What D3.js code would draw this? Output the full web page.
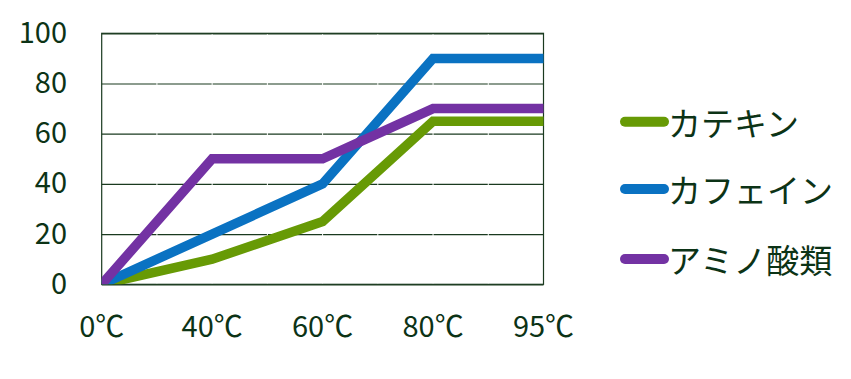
<!DOCTYPE html>
<html><head><meta charset="utf-8">
<script src="https://cdn.jsdelivr.net/npm/d3@7/dist/d3.min.js"></script>
<style>body{margin:0;background:#fff}svg{display:block}</style>
</head><body>
<svg id="c" width="851" height="379"></svg>
<script>
const categories = ["0℃","40℃","60℃","80℃","95℃"];
const seriesNames = ["カテキン","カフェイン","アミノ酸類"];
const catechin = [0,10,25,65,65];
const caffeine = [0,20,40,90,90];
const amino = [0,50,50,70,70];
const yTicks = [0,20,40,60,80,100];
const colors = ["#679a05","#0a72c2","#7332a3"];
const textColor = "#0c3316";

const svg = d3.select("#c");
const L=101.7,R=543.5,T=33.3,B=284.3;
const x = d3.scalePoint().domain(categories).range([L,R]);
const y = d3.scaleLinear().domain([0,100]).range([B,T]);

svg.append("defs").append("clipPath").attr("id","clip")
  .append("rect").attr("x",L).attr("y",T).attr("width",R-L+1).attr("height",B-T);

// gridlines
const yAxis = d3.axisLeft(y).tickValues(yTicks).tickSize(-(R-L)).tickFormat("");
svg.append("g").attr("transform",`translate(${L},0)`).call(yAxis)
  .call(g=>g.select(".domain").remove())
  .call(g=>g.selectAll("line").attr("stroke","#1a3a1f").attr("stroke-width",1.2));
// border
svg.append("rect").attr("x",L).attr("y",T).attr("width",R-L).attr("height",B-T)
  .attr("fill","none").attr("stroke","#1a3a1f").attr("stroke-width",1.2);
// faint white separators
const step = x.step()/2;
const seps = d3.range(1,8).map(i=>L+i*step);
svg.append("g").selectAll("line").data(seps).join("line")
  .attr("x1",d=>d).attr("x2",d=>d).attr("y1",T+1).attr("y2",B-1)
  .attr("stroke","#fff").attr("stroke-width",1);

const font = "'Noto Sans CJK JP','Noto Sans',sans-serif";
// y labels
svg.append("g").selectAll("text").data(yTicks).join("text")
  .attr("x",67).attr("y",d=>y(d)-3.5).attr("text-anchor","end").attr("dominant-baseline","central")
  .attr("font-family",font).attr("font-size",29)
  .attr("fill",textColor).text(d=>d);
// x labels
svg.append("g").selectAll("text").data(categories).join("text")
  .attr("x",d=>x(d)).attr("y",337).attr("text-anchor","middle")
  .attr("font-family",font).attr("font-size",29)
  .attr("fill",textColor).text(d=>d);

// lines
const series = [catechin,caffeine,amino];
const line = d3.line().x((d,i)=>x(categories[i])).y(d=>y(d));
svg.append("g").attr("clip-path","url(#clip)").selectAll("path").data(series).join("path")
  .attr("d",line).attr("fill","none").attr("stroke",(d,i)=>colors[i])
  .attr("stroke-width",9.5).attr("stroke-linejoin","miter");

// legend
const legY = [121.7,189,259];
const lg = svg.append("g").selectAll("g").data(seriesNames).join("g")
  .attr("transform",(d,i)=>`translate(0,${legY[i]})`);
lg.append("line").attr("x1",625).attr("x2",664).attr("y1",0).attr("y2",0)
  .attr("stroke",(d,i)=>colors[i]).attr("stroke-width",10).attr("stroke-linecap","round");
lg.append("text").attr("x",668).attr("y",0).attr("dominant-baseline","central")
  .attr("font-family",font).attr("font-size",33)
  .attr("fill",textColor).text(d=>d);
</script>
</body></html>
